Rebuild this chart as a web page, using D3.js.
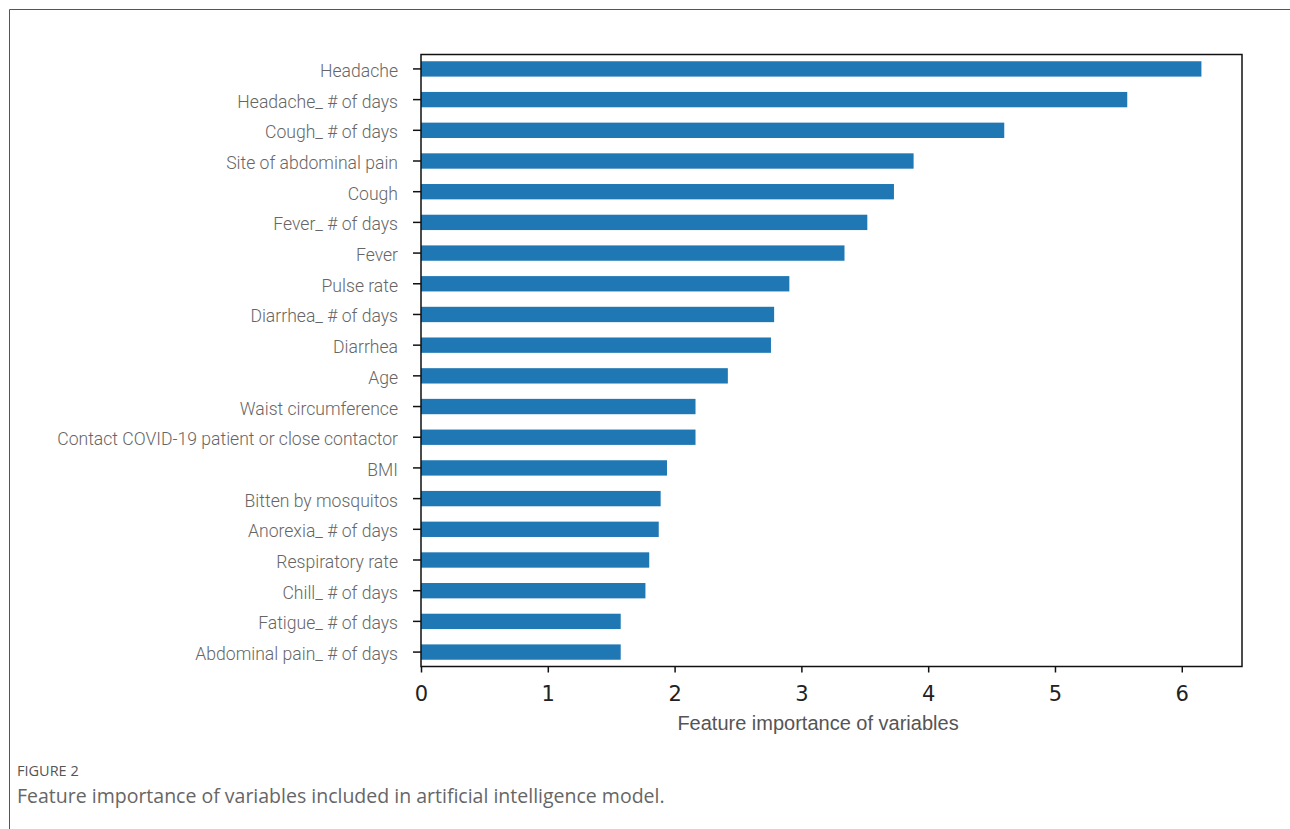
<!DOCTYPE html>
<html>
<head>
<meta charset="utf-8">
<script src="https://cdn.jsdelivr.net/npm/d3@7"></script>
<style>
  body { margin: 0; background: #fff; }
  svg { display: block; }
</style>
</head>
<body>
<div id="chart"></div>
<script>
const features = [
  'Headache',
  'Headache_ # of days',
  'Cough_ # of days',
  'Site of abdominal pain',
  'Cough',
  'Fever_ # of days',
  'Fever ',
  'Pulse rate',
  'Diarrhea_ # of days',
  'Diarrhea',
  'Age ',
  'Waist circumference ',
  'Contact COVID-19 patient or close contactor',
  'BMI',
  'Bitten by mosquitos',
  'Anorexia_ # of days',
  'Respiratory rate',
  'Chill_ # of days',
  'Fatigue_ # of days',
  'Abdominal pain_ # of days'
]
const importance = [6.155, 5.57, 4.6, 3.885, 3.73, 3.52, 3.34, 2.905, 2.785, 2.76,
  2.42, 2.165, 2.165, 1.94, 1.89, 1.875, 1.8, 1.77, 1.575, 1.575]
const xTicks = [0, 1, 2, 3, 4, 5, 6]

const data = features.map((f, i) => ({ name: f, value: importance[i] }))

const width = 1290
const height = 829
const plot = { left: 421, right: 1242, top: 54.5, bottom: 666.5 }

const svg = d3.select('#chart')
  .append('svg')
  .attr('width', width)
  .attr('height', height)

// outer figure frame
svg.append('path')
  .attr('d', `M9.5,${height} V9.5 H${width}`)
  .attr('fill', 'none')
  .attr('stroke', '#555')
  .attr('stroke-width', 1)

const x = d3.scaleLinear().domain([0, 6.475]).range([plot.left, plot.right])
const y = d3.scaleBand()
  .domain(features)
  .range([plot.top, plot.bottom])
  .paddingInner(0.5)
  .paddingOuter(0.22)

svg.selectAll('.bar')
  .data(data)
  .enter()
  .append('rect')
  .attr('class', 'bar')
  .attr('x', x(0))
  .attr('y', d => y(d.name))
  .attr('width', d => x(d.value) - x(0))
  .attr('height', y.bandwidth())
  .attr('fill', '#1f77b4')

// y axis
const yAxis = svg.append('g')
  .attr('transform', `translate(${plot.left},0)`)
  .call(d3.axisLeft(y).tickSize(8).tickPadding(15))
yAxis.select('.domain').remove()
yAxis.selectAll('line').attr('stroke', '#111').attr('stroke-width', 1.5)
const labels = yAxis.selectAll('text')
  .attr('fill', '#666')
  .attr('dy', '0.42em')
  .style('font-family', 'Roboto')
  .style('font-weight', 300)
  .style('font-size', '19px')

// squeeze labels to the narrow face used in the figure
let maxW = 0
labels.each(function () { maxW = Math.max(maxW, this.getComputedTextLength()) })
const sx = 341 / maxW
labels
  .attr('x', -23 / sx)
  .attr('transform', `scale(${sx},1)`)

// x axis
const xAxis = svg.append('g')
  .attr('transform', `translate(0,${plot.bottom})`)
  .call(d3.axisBottom(x).tickValues(xTicks).tickSize(6).tickFormat(d3.format('d')))
xAxis.select('.domain').remove()
xAxis.selectAll('line').attr('stroke', '#111').attr('stroke-width', 1.5)
xAxis.selectAll('text')
  .attr('y', 34)
  .attr('dy', 0)
  .attr('fill', '#222')
  .style('font-family', 'DejaVu Sans')
  .style('font-size', '21px')

// plot frame
svg.append('rect')
  .attr('x', plot.left)
  .attr('y', plot.top)
  .attr('width', plot.right - plot.left)
  .attr('height', plot.bottom - plot.top)
  .attr('fill', 'none')
  .attr('stroke', '#111')
  .attr('stroke-width', 1.5)

svg.append('text')
  .attr('x', 818)
  .attr('y', 730)
  .attr('text-anchor', 'middle')
  .attr('fill', '#555')
  .style('font-family', 'Liberation Sans')
  .style('font-size', '20px')
  .text('Feature importance of variables')

// caption
svg.append('text')
  .attr('x', 17)
  .attr('y', 776)
  .attr('fill', '#555')
  .style('font-family', 'Open Sans')
  .style('font-size', '14.5px')
  .text('FIGURE 2')

svg.append('text')
  .attr('x', 17)
  .attr('y', 803)
  .attr('fill', '#666')
  .style('font-family', 'Open Sans')
  .style('font-size', '19.5px')
  .text('Feature importance of variables included in artificial intelligence model.')
</script>
</body>
</html>
